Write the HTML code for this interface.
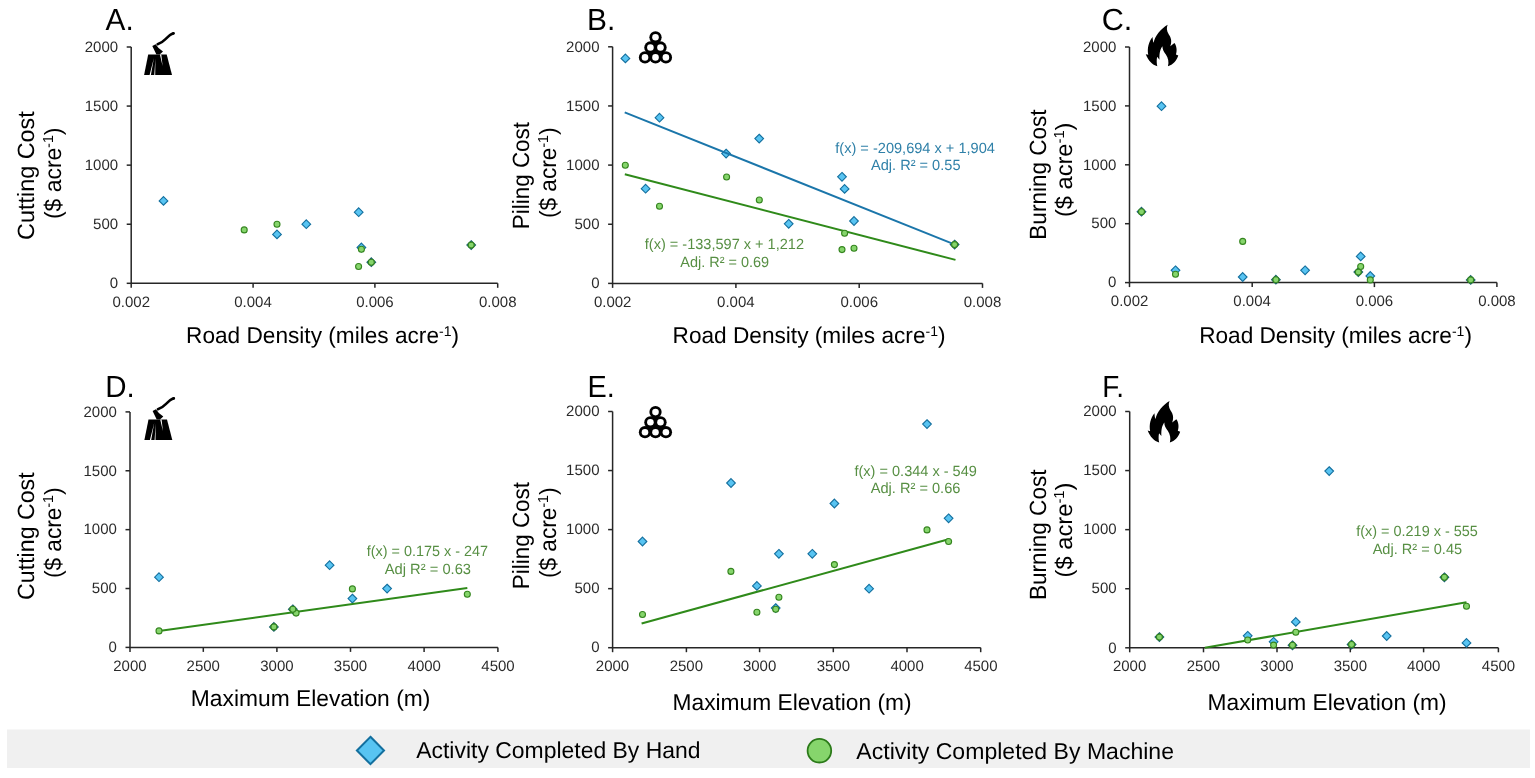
<!DOCTYPE html>
<html><head><meta charset="utf-8"><title>Figure</title>
<style>html,body{margin:0;padding:0;background:#fff;} svg{display:block;} text{font-family:'Liberation Sans', Arial, sans-serif;text-rendering:geometricPrecision;}</style>
</head><body>
<svg width="1535" height="778" viewBox="0 0 1535 778">
<rect width="1535" height="778" fill="#fff"/>
<path d="M131.20,47.00V283.30H497.70" fill="none" stroke="#262626" stroke-width="1.5"/>
<path d="M126.70,283.30H131.20" stroke="#262626" stroke-width="1.5"/>
<text transform="translate(109.74,288.05) scale(1.0000,1)" font-size="15.0" fill="#2a2a2a">0</text>
<path d="M126.70,224.23H131.20" stroke="#262626" stroke-width="1.5"/>
<text transform="translate(93.05,228.98) scale(1.0000,1)" font-size="15.0" fill="#2a2a2a">500</text>
<path d="M126.70,165.15H131.20" stroke="#262626" stroke-width="1.5"/>
<text transform="translate(84.72,169.90) scale(1.0000,1)" font-size="15.0" fill="#2a2a2a">1000</text>
<path d="M126.70,106.07H131.20" stroke="#262626" stroke-width="1.5"/>
<text transform="translate(84.72,110.82) scale(1.0000,1)" font-size="15.0" fill="#2a2a2a">1500</text>
<path d="M126.70,47.00H131.20" stroke="#262626" stroke-width="1.5"/>
<text transform="translate(84.72,51.75) scale(1.0000,1)" font-size="15.0" fill="#2a2a2a">2000</text>
<path d="M131.20,283.30V287.80" stroke="#262626" stroke-width="1.5"/>
<text transform="translate(112.51,306.60) scale(1.0000,1)" font-size="15.0" fill="#2a2a2a">0.002</text>
<path d="M253.10,283.30V287.80" stroke="#262626" stroke-width="1.5"/>
<text transform="translate(234.24,306.60) scale(1.0000,1)" font-size="15.0" fill="#2a2a2a">0.004</text>
<path d="M374.90,283.30V287.80" stroke="#262626" stroke-width="1.5"/>
<text transform="translate(356.15,306.60) scale(1.0000,1)" font-size="15.0" fill="#2a2a2a">0.006</text>
<path d="M497.70,283.30V287.80" stroke="#262626" stroke-width="1.5"/>
<text transform="translate(478.95,306.60) scale(1.0000,1)" font-size="15.0" fill="#2a2a2a">0.008</text>
<text transform="translate(105.53,30.00) scale(0.9769,1)" font-size="30.5" fill="#000">A.</text>
<path d="M612.60,46.80V283.40H982.50" fill="none" stroke="#262626" stroke-width="1.5"/>
<path d="M608.10,283.40H612.60" stroke="#262626" stroke-width="1.5"/>
<text transform="translate(591.14,288.15) scale(1.0000,1)" font-size="15.0" fill="#2a2a2a">0</text>
<path d="M608.10,224.25H612.60" stroke="#262626" stroke-width="1.5"/>
<text transform="translate(574.45,229.00) scale(1.0000,1)" font-size="15.0" fill="#2a2a2a">500</text>
<path d="M608.10,165.10H612.60" stroke="#262626" stroke-width="1.5"/>
<text transform="translate(566.12,169.85) scale(1.0000,1)" font-size="15.0" fill="#2a2a2a">1000</text>
<path d="M608.10,105.95H612.60" stroke="#262626" stroke-width="1.5"/>
<text transform="translate(566.12,110.70) scale(1.0000,1)" font-size="15.0" fill="#2a2a2a">1500</text>
<path d="M608.10,46.80H612.60" stroke="#262626" stroke-width="1.5"/>
<text transform="translate(566.12,51.55) scale(1.0000,1)" font-size="15.0" fill="#2a2a2a">2000</text>
<path d="M612.60,283.40V287.90" stroke="#262626" stroke-width="1.5"/>
<text transform="translate(593.91,306.70) scale(1.0000,1)" font-size="15.0" fill="#2a2a2a">0.002</text>
<path d="M735.90,283.40V287.90" stroke="#262626" stroke-width="1.5"/>
<text transform="translate(717.04,306.70) scale(1.0000,1)" font-size="15.0" fill="#2a2a2a">0.004</text>
<path d="M859.20,283.40V287.90" stroke="#262626" stroke-width="1.5"/>
<text transform="translate(840.45,306.70) scale(1.0000,1)" font-size="15.0" fill="#2a2a2a">0.006</text>
<path d="M982.50,283.40V287.90" stroke="#262626" stroke-width="1.5"/>
<text transform="translate(963.75,306.70) scale(1.0000,1)" font-size="15.0" fill="#2a2a2a">0.008</text>
<text transform="translate(587.03,30.00) scale(0.9804,1)" font-size="30.5" fill="#000">B.</text>
<path d="M1129.50,47.00V282.60H1496.90" fill="none" stroke="#262626" stroke-width="1.5"/>
<path d="M1125.00,282.60H1129.50" stroke="#262626" stroke-width="1.5"/>
<text transform="translate(1108.04,287.35) scale(1.0000,1)" font-size="15.0" fill="#2a2a2a">0</text>
<path d="M1125.00,223.70H1129.50" stroke="#262626" stroke-width="1.5"/>
<text transform="translate(1091.35,228.45) scale(1.0000,1)" font-size="15.0" fill="#2a2a2a">500</text>
<path d="M1125.00,164.80H1129.50" stroke="#262626" stroke-width="1.5"/>
<text transform="translate(1083.02,169.55) scale(1.0000,1)" font-size="15.0" fill="#2a2a2a">1000</text>
<path d="M1125.00,105.90H1129.50" stroke="#262626" stroke-width="1.5"/>
<text transform="translate(1083.02,110.65) scale(1.0000,1)" font-size="15.0" fill="#2a2a2a">1500</text>
<path d="M1125.00,47.00H1129.50" stroke="#262626" stroke-width="1.5"/>
<text transform="translate(1083.02,51.75) scale(1.0000,1)" font-size="15.0" fill="#2a2a2a">2000</text>
<path d="M1129.50,282.60V287.10" stroke="#262626" stroke-width="1.5"/>
<text transform="translate(1110.81,305.90) scale(1.0000,1)" font-size="15.0" fill="#2a2a2a">0.002</text>
<path d="M1252.20,282.60V287.10" stroke="#262626" stroke-width="1.5"/>
<text transform="translate(1233.34,305.90) scale(1.0000,1)" font-size="15.0" fill="#2a2a2a">0.004</text>
<path d="M1374.40,282.60V287.10" stroke="#262626" stroke-width="1.5"/>
<text transform="translate(1355.65,305.90) scale(1.0000,1)" font-size="15.0" fill="#2a2a2a">0.006</text>
<path d="M1496.90,282.60V287.10" stroke="#262626" stroke-width="1.5"/>
<text transform="translate(1478.15,305.90) scale(1.0000,1)" font-size="15.0" fill="#2a2a2a">0.008</text>
<text transform="translate(1101.67,30.00) scale(1.0027,1)" font-size="30.5" fill="#000">C.</text>
<path d="M130.00,411.90V647.40H497.90" fill="none" stroke="#262626" stroke-width="1.5"/>
<path d="M125.50,647.40H130.00" stroke="#262626" stroke-width="1.5"/>
<text transform="translate(108.54,652.15) scale(1.0000,1)" font-size="15.0" fill="#2a2a2a">0</text>
<path d="M125.50,588.52H130.00" stroke="#262626" stroke-width="1.5"/>
<text transform="translate(91.85,593.27) scale(1.0000,1)" font-size="15.0" fill="#2a2a2a">500</text>
<path d="M125.50,529.65H130.00" stroke="#262626" stroke-width="1.5"/>
<text transform="translate(83.53,534.40) scale(1.0000,1)" font-size="15.0" fill="#2a2a2a">1000</text>
<path d="M125.50,470.77H130.00" stroke="#262626" stroke-width="1.5"/>
<text transform="translate(83.53,475.52) scale(1.0000,1)" font-size="15.0" fill="#2a2a2a">1500</text>
<path d="M125.50,411.90H130.00" stroke="#262626" stroke-width="1.5"/>
<text transform="translate(83.53,416.65) scale(1.0000,1)" font-size="15.0" fill="#2a2a2a">2000</text>
<path d="M130.00,647.40V651.90" stroke="#262626" stroke-width="1.5"/>
<text transform="translate(113.24,670.60) scale(1.0000,1)" font-size="15.0" fill="#2a2a2a">2000</text>
<path d="M203.30,647.40V651.90" stroke="#262626" stroke-width="1.5"/>
<text transform="translate(186.54,670.60) scale(1.0000,1)" font-size="15.0" fill="#2a2a2a">2500</text>
<path d="M276.90,647.40V651.90" stroke="#262626" stroke-width="1.5"/>
<text transform="translate(260.23,670.60) scale(1.0000,1)" font-size="15.0" fill="#2a2a2a">3000</text>
<path d="M350.50,647.40V651.90" stroke="#262626" stroke-width="1.5"/>
<text transform="translate(333.83,670.60) scale(1.0000,1)" font-size="15.0" fill="#2a2a2a">3500</text>
<path d="M424.10,647.40V651.90" stroke="#262626" stroke-width="1.5"/>
<text transform="translate(407.54,670.60) scale(1.0000,1)" font-size="15.0" fill="#2a2a2a">4000</text>
<path d="M497.90,647.40V651.90" stroke="#262626" stroke-width="1.5"/>
<text transform="translate(481.34,670.60) scale(1.0000,1)" font-size="15.0" fill="#2a2a2a">4500</text>
<text transform="translate(105.17,397.10) scale(0.9668,1)" font-size="30.5" fill="#000">D.</text>
<path d="M612.60,411.50V647.70H980.70" fill="none" stroke="#262626" stroke-width="1.5"/>
<path d="M608.10,647.70H612.60" stroke="#262626" stroke-width="1.5"/>
<text transform="translate(591.14,652.45) scale(1.0000,1)" font-size="15.0" fill="#2a2a2a">0</text>
<path d="M608.10,588.65H612.60" stroke="#262626" stroke-width="1.5"/>
<text transform="translate(574.45,593.40) scale(1.0000,1)" font-size="15.0" fill="#2a2a2a">500</text>
<path d="M608.10,529.60H612.60" stroke="#262626" stroke-width="1.5"/>
<text transform="translate(566.12,534.35) scale(1.0000,1)" font-size="15.0" fill="#2a2a2a">1000</text>
<path d="M608.10,470.55H612.60" stroke="#262626" stroke-width="1.5"/>
<text transform="translate(566.12,475.30) scale(1.0000,1)" font-size="15.0" fill="#2a2a2a">1500</text>
<path d="M608.10,411.50H612.60" stroke="#262626" stroke-width="1.5"/>
<text transform="translate(566.12,416.25) scale(1.0000,1)" font-size="15.0" fill="#2a2a2a">2000</text>
<path d="M612.60,647.70V652.20" stroke="#262626" stroke-width="1.5"/>
<text transform="translate(595.84,670.90) scale(1.0000,1)" font-size="15.0" fill="#2a2a2a">2000</text>
<path d="M686.40,647.70V652.20" stroke="#262626" stroke-width="1.5"/>
<text transform="translate(669.64,670.90) scale(1.0000,1)" font-size="15.0" fill="#2a2a2a">2500</text>
<path d="M759.60,647.70V652.20" stroke="#262626" stroke-width="1.5"/>
<text transform="translate(742.93,670.90) scale(1.0000,1)" font-size="15.0" fill="#2a2a2a">3000</text>
<path d="M833.30,647.70V652.20" stroke="#262626" stroke-width="1.5"/>
<text transform="translate(816.63,670.90) scale(1.0000,1)" font-size="15.0" fill="#2a2a2a">3500</text>
<path d="M907.00,647.70V652.20" stroke="#262626" stroke-width="1.5"/>
<text transform="translate(890.44,670.90) scale(1.0000,1)" font-size="15.0" fill="#2a2a2a">4000</text>
<path d="M980.70,647.70V652.20" stroke="#262626" stroke-width="1.5"/>
<text transform="translate(964.14,670.90) scale(1.0000,1)" font-size="15.0" fill="#2a2a2a">4500</text>
<text transform="translate(587.52,397.10) scale(0.9465,1)" font-size="30.5" fill="#000">E.</text>
<path d="M1129.70,411.50V647.80H1498.40" fill="none" stroke="#262626" stroke-width="1.5"/>
<path d="M1125.20,647.80H1129.70" stroke="#262626" stroke-width="1.5"/>
<text transform="translate(1108.24,652.55) scale(1.0000,1)" font-size="15.0" fill="#2a2a2a">0</text>
<path d="M1125.20,588.72H1129.70" stroke="#262626" stroke-width="1.5"/>
<text transform="translate(1091.55,593.47) scale(1.0000,1)" font-size="15.0" fill="#2a2a2a">500</text>
<path d="M1125.20,529.65H1129.70" stroke="#262626" stroke-width="1.5"/>
<text transform="translate(1083.22,534.40) scale(1.0000,1)" font-size="15.0" fill="#2a2a2a">1000</text>
<path d="M1125.20,470.57H1129.70" stroke="#262626" stroke-width="1.5"/>
<text transform="translate(1083.22,475.32) scale(1.0000,1)" font-size="15.0" fill="#2a2a2a">1500</text>
<path d="M1125.20,411.50H1129.70" stroke="#262626" stroke-width="1.5"/>
<text transform="translate(1083.22,416.25) scale(1.0000,1)" font-size="15.0" fill="#2a2a2a">2000</text>
<path d="M1129.70,647.80V652.30" stroke="#262626" stroke-width="1.5"/>
<text transform="translate(1112.94,671.00) scale(1.0000,1)" font-size="15.0" fill="#2a2a2a">2000</text>
<path d="M1203.50,647.80V652.30" stroke="#262626" stroke-width="1.5"/>
<text transform="translate(1186.74,671.00) scale(1.0000,1)" font-size="15.0" fill="#2a2a2a">2500</text>
<path d="M1277.00,647.80V652.30" stroke="#262626" stroke-width="1.5"/>
<text transform="translate(1260.33,671.00) scale(1.0000,1)" font-size="15.0" fill="#2a2a2a">3000</text>
<path d="M1350.30,647.80V652.30" stroke="#262626" stroke-width="1.5"/>
<text transform="translate(1333.63,671.00) scale(1.0000,1)" font-size="15.0" fill="#2a2a2a">3500</text>
<path d="M1423.60,647.80V652.30" stroke="#262626" stroke-width="1.5"/>
<text transform="translate(1407.04,671.00) scale(1.0000,1)" font-size="15.0" fill="#2a2a2a">4000</text>
<path d="M1498.40,647.80V652.30" stroke="#262626" stroke-width="1.5"/>
<text transform="translate(1481.84,671.00) scale(1.0000,1)" font-size="15.0" fill="#2a2a2a">4500</text>
<text transform="translate(1102.20,397.10) scale(0.9159,1)" font-size="30.5" fill="#000">F.</text>
<text transform="translate(186.03,343.30) scale(0.9934,1)" font-size="22.8" fill="#000">Road Density (miles acre<tspan font-size="14.14" dy="-7.52">-1</tspan><tspan dy="7.52">)</tspan></text>
<text transform="translate(672.53,343.30) scale(0.9934,1)" font-size="22.8" fill="#000">Road Density (miles acre<tspan font-size="14.14" dy="-7.52">-1</tspan><tspan dy="7.52">)</tspan></text>
<text transform="translate(1199.13,343.30) scale(0.9927,1)" font-size="22.8" fill="#000">Road Density (miles acre<tspan font-size="14.14" dy="-7.52">-1</tspan><tspan dy="7.52">)</tspan></text>
<text transform="translate(190.82,705.80) scale(1.0004,1)" font-size="22.8" fill="#000">Maximum Elevation (m)</text>
<text transform="translate(672.52,710.10) scale(0.9987,1)" font-size="22.8" fill="#000">Maximum Elevation (m)</text>
<text transform="translate(1207.52,710.10) scale(0.9987,1)" font-size="22.8" fill="#000">Maximum Elevation (m)</text>
<g transform="translate(34.40,238.80) rotate(-90)"><text transform="translate(-1.17,0.00) scale(0.9956,1)" font-size="23.5" fill="#000">Cutting Cost</text></g>
<g transform="translate(60.80,217.60) rotate(-90)"><text transform="translate(-1.43,0.00) scale(0.9744,1)" font-size="23.5" fill="#000">($ acre<tspan font-size="14.57" dy="-7.76">-1</tspan><tspan dy="7.76">)</tspan></text></g>
<g transform="translate(529.20,227.30) rotate(-90)"><text transform="translate(-1.85,0.00) scale(0.9536,1)" font-size="23.5" fill="#000">Piling Cost</text></g>
<g transform="translate(555.80,216.70) rotate(-90)"><text transform="translate(-1.42,0.00) scale(0.9645,1)" font-size="23.5" fill="#000">($ acre<tspan font-size="14.57" dy="-7.76">-1</tspan><tspan dy="7.76">)</tspan></text></g>
<g transform="translate(1045.80,237.80) rotate(-90)"><text transform="translate(-1.86,0.00) scale(0.9588,1)" font-size="23.5" fill="#000">Burning Cost</text></g>
<g transform="translate(1071.80,215.60) rotate(-90)"><text transform="translate(-1.48,0.00) scale(1.0062,1)" font-size="23.5" fill="#000">($ acre<tspan font-size="14.57" dy="-7.76">-1</tspan><tspan dy="7.76">)</tspan></text></g>
<g transform="translate(34.40,598.80) rotate(-90)"><text transform="translate(-1.16,0.00) scale(0.9870,1)" font-size="23.5" fill="#000">Cutting Cost</text></g>
<g transform="translate(60.80,576.70) rotate(-90)"><text transform="translate(-1.42,0.00) scale(0.9645,1)" font-size="23.5" fill="#000">($ acre<tspan font-size="14.57" dy="-7.76">-1</tspan><tspan dy="7.76">)</tspan></text></g>
<g transform="translate(529.20,587.30) rotate(-90)"><text transform="translate(-1.85,0.00) scale(0.9536,1)" font-size="23.5" fill="#000">Piling Cost</text></g>
<g transform="translate(555.80,576.70) rotate(-90)"><text transform="translate(-1.42,0.00) scale(0.9645,1)" font-size="23.5" fill="#000">($ acre<tspan font-size="14.57" dy="-7.76">-1</tspan><tspan dy="7.76">)</tspan></text></g>
<g transform="translate(1045.80,598.20) rotate(-90)"><text transform="translate(-1.86,0.00) scale(0.9617,1)" font-size="23.5" fill="#000">Burning Cost</text></g>
<g transform="translate(1071.80,576.00) rotate(-90)"><text transform="translate(-1.48,0.00) scale(1.0106,1)" font-size="23.5" fill="#000">($ acre<tspan font-size="14.57" dy="-7.76">-1</tspan><tspan dy="7.76">)</tspan></text></g>
<path d="M163.50,196.55L167.85,200.90L163.50,205.25L159.15,200.90Z" fill="#58C4F2" stroke="#136F9E" stroke-width="1.1"/>
<path d="M277.00,230.05L281.35,234.40L277.00,238.75L272.65,234.40Z" fill="#58C4F2" stroke="#136F9E" stroke-width="1.1"/>
<path d="M306.30,219.85L310.65,224.20L306.30,228.55L301.95,224.20Z" fill="#58C4F2" stroke="#136F9E" stroke-width="1.1"/>
<path d="M358.70,207.85L363.05,212.20L358.70,216.55L354.35,212.20Z" fill="#58C4F2" stroke="#136F9E" stroke-width="1.1"/>
<path d="M361.40,243.15L365.75,247.50L361.40,251.85L357.05,247.50Z" fill="#58C4F2" stroke="#136F9E" stroke-width="1.1"/>
<path d="M371.30,257.85L375.65,262.20L371.30,266.55L366.95,262.20Z" fill="#2f7f55" stroke="#1c6470" stroke-width="1.1"/>
<path d="M471.20,240.75L475.55,245.10L471.20,249.45L466.85,245.10Z" fill="#2f7f55" stroke="#1c6470" stroke-width="1.1"/>
<circle cx="244.20" cy="229.90" r="3.0" fill="#86D56C" stroke="#35851F" stroke-width="1.1"/>
<circle cx="277.00" cy="224.20" r="3.0" fill="#86D56C" stroke="#35851F" stroke-width="1.1"/>
<circle cx="361.40" cy="249.20" r="3.0" fill="#86D56C" stroke="#35851F" stroke-width="1.1"/>
<circle cx="358.60" cy="266.50" r="3.0" fill="#86D56C" stroke="#35851F" stroke-width="1.1"/>
<circle cx="371.30" cy="262.20" r="3.0" fill="#86D56C" stroke="#35851F" stroke-width="1.1"/>
<circle cx="471.20" cy="245.10" r="3.0" fill="#86D56C" stroke="#35851F" stroke-width="1.1"/>
<path d="M625.40,54.05L629.75,58.40L625.40,62.75L621.05,58.40Z" fill="#58C4F2" stroke="#136F9E" stroke-width="1.1"/>
<path d="M659.50,113.35L663.85,117.70L659.50,122.05L655.15,117.70Z" fill="#58C4F2" stroke="#136F9E" stroke-width="1.1"/>
<path d="M645.60,184.35L649.95,188.70L645.60,193.05L641.25,188.70Z" fill="#58C4F2" stroke="#136F9E" stroke-width="1.1"/>
<path d="M726.10,149.25L730.45,153.60L726.10,157.95L721.75,153.60Z" fill="#58C4F2" stroke="#136F9E" stroke-width="1.1"/>
<path d="M759.20,134.25L763.55,138.60L759.20,142.95L754.85,138.60Z" fill="#58C4F2" stroke="#136F9E" stroke-width="1.1"/>
<path d="M788.70,219.45L793.05,223.80L788.70,228.15L784.35,223.80Z" fill="#58C4F2" stroke="#136F9E" stroke-width="1.1"/>
<path d="M842.00,172.45L846.35,176.80L842.00,181.15L837.65,176.80Z" fill="#58C4F2" stroke="#136F9E" stroke-width="1.1"/>
<path d="M844.60,184.55L848.95,188.90L844.60,193.25L840.25,188.90Z" fill="#58C4F2" stroke="#136F9E" stroke-width="1.1"/>
<path d="M854.00,216.65L858.35,221.00L854.00,225.35L849.65,221.00Z" fill="#58C4F2" stroke="#136F9E" stroke-width="1.1"/>
<path d="M954.60,240.25L958.95,244.60L954.60,248.95L950.25,244.60Z" fill="#2f7f55" stroke="#1c6470" stroke-width="1.1"/>
<path d="M624.70,112.40L955.00,244.60" stroke="#1B76AA" stroke-width="2" fill="none"/>
<path d="M624.80,174.30L955.50,259.90" stroke="#2F8A1A" stroke-width="2" fill="none"/>
<circle cx="625.30" cy="165.30" r="3.0" fill="#86D56C" stroke="#35851F" stroke-width="1.1"/>
<circle cx="659.50" cy="206.30" r="3.0" fill="#86D56C" stroke="#35851F" stroke-width="1.1"/>
<circle cx="726.60" cy="177.00" r="3.0" fill="#86D56C" stroke="#35851F" stroke-width="1.1"/>
<circle cx="759.30" cy="200.00" r="3.0" fill="#86D56C" stroke="#35851F" stroke-width="1.1"/>
<circle cx="844.60" cy="233.20" r="3.0" fill="#86D56C" stroke="#35851F" stroke-width="1.1"/>
<circle cx="842.00" cy="249.60" r="3.0" fill="#86D56C" stroke="#35851F" stroke-width="1.1"/>
<circle cx="854.00" cy="248.30" r="3.0" fill="#86D56C" stroke="#35851F" stroke-width="1.1"/>
<circle cx="954.60" cy="244.60" r="3.0" fill="#86D56C" stroke="#35851F" stroke-width="1.1"/>
<path d="M1161.50,101.85L1165.85,106.20L1161.50,110.55L1157.15,106.20Z" fill="#58C4F2" stroke="#136F9E" stroke-width="1.1"/>
<path d="M1175.50,265.95L1179.85,270.30L1175.50,274.65L1171.15,270.30Z" fill="#58C4F2" stroke="#136F9E" stroke-width="1.1"/>
<path d="M1242.70,272.65L1247.05,277.00L1242.70,281.35L1238.35,277.00Z" fill="#58C4F2" stroke="#136F9E" stroke-width="1.1"/>
<path d="M1305.10,265.95L1309.45,270.30L1305.10,274.65L1300.75,270.30Z" fill="#58C4F2" stroke="#136F9E" stroke-width="1.1"/>
<path d="M1360.70,252.05L1365.05,256.40L1360.70,260.75L1356.35,256.40Z" fill="#58C4F2" stroke="#136F9E" stroke-width="1.1"/>
<path d="M1370.30,271.65L1374.65,276.00L1370.30,280.35L1365.95,276.00Z" fill="#58C4F2" stroke="#136F9E" stroke-width="1.1"/>
<path d="M1141.50,207.35L1145.85,211.70L1141.50,216.05L1137.15,211.70Z" fill="#2f7f55" stroke="#1c6470" stroke-width="1.1"/>
<path d="M1275.90,275.35L1280.25,279.70L1275.90,284.05L1271.55,279.70Z" fill="#2f7f55" stroke="#1c6470" stroke-width="1.1"/>
<path d="M1358.30,267.75L1362.65,272.10L1358.30,276.45L1353.95,272.10Z" fill="#2f7f55" stroke="#1c6470" stroke-width="1.1"/>
<path d="M1470.70,275.55L1475.05,279.90L1470.70,284.25L1466.35,279.90Z" fill="#2f7f55" stroke="#1c6470" stroke-width="1.1"/>
<circle cx="1242.70" cy="241.40" r="3.0" fill="#86D56C" stroke="#35851F" stroke-width="1.1"/>
<circle cx="1175.50" cy="274.30" r="3.0" fill="#86D56C" stroke="#35851F" stroke-width="1.1"/>
<circle cx="1360.70" cy="266.50" r="3.0" fill="#86D56C" stroke="#35851F" stroke-width="1.1"/>
<circle cx="1370.30" cy="279.90" r="3.0" fill="#86D56C" stroke="#35851F" stroke-width="1.1"/>
<circle cx="1141.50" cy="211.70" r="3.0" fill="#86D56C" stroke="#35851F" stroke-width="1.1"/>
<circle cx="1275.90" cy="279.70" r="3.0" fill="#86D56C" stroke="#35851F" stroke-width="1.1"/>
<circle cx="1358.30" cy="272.10" r="3.0" fill="#86D56C" stroke="#35851F" stroke-width="1.1"/>
<circle cx="1470.70" cy="279.90" r="3.0" fill="#86D56C" stroke="#35851F" stroke-width="1.1"/>
<path d="M159.00,572.85L163.35,577.20L159.00,581.55L154.65,577.20Z" fill="#58C4F2" stroke="#136F9E" stroke-width="1.1"/>
<path d="M329.60,560.85L333.95,565.20L329.60,569.55L325.25,565.20Z" fill="#58C4F2" stroke="#136F9E" stroke-width="1.1"/>
<path d="M352.40,594.25L356.75,598.60L352.40,602.95L348.05,598.60Z" fill="#58C4F2" stroke="#136F9E" stroke-width="1.1"/>
<path d="M387.10,584.25L391.45,588.60L387.10,592.95L382.75,588.60Z" fill="#58C4F2" stroke="#136F9E" stroke-width="1.1"/>
<path d="M273.90,622.55L278.25,626.90L273.90,631.25L269.55,626.90Z" fill="#2f7f55" stroke="#1c6470" stroke-width="1.1"/>
<path d="M292.80,604.95L297.15,609.30L292.80,613.65L288.45,609.30Z" fill="#2f7f55" stroke="#1c6470" stroke-width="1.1"/>
<path d="M159.00,630.90L467.30,588.10" stroke="#2F8A1A" stroke-width="2" fill="none"/>
<circle cx="159.00" cy="630.90" r="3.0" fill="#86D56C" stroke="#35851F" stroke-width="1.1"/>
<circle cx="296.10" cy="613.10" r="3.0" fill="#86D56C" stroke="#35851F" stroke-width="1.1"/>
<circle cx="352.40" cy="588.90" r="3.0" fill="#86D56C" stroke="#35851F" stroke-width="1.1"/>
<circle cx="467.30" cy="594.30" r="3.0" fill="#86D56C" stroke="#35851F" stroke-width="1.1"/>
<circle cx="273.90" cy="626.90" r="3.0" fill="#86D56C" stroke="#35851F" stroke-width="1.1"/>
<circle cx="292.80" cy="609.30" r="3.0" fill="#86D56C" stroke="#35851F" stroke-width="1.1"/>
<path d="M642.50,537.15L646.85,541.50L642.50,545.85L638.15,541.50Z" fill="#58C4F2" stroke="#136F9E" stroke-width="1.1"/>
<path d="M731.00,478.65L735.35,483.00L731.00,487.35L726.65,483.00Z" fill="#58C4F2" stroke="#136F9E" stroke-width="1.1"/>
<path d="M756.90,581.55L761.25,585.90L756.90,590.25L752.55,585.90Z" fill="#58C4F2" stroke="#136F9E" stroke-width="1.1"/>
<path d="M778.90,549.45L783.25,553.80L778.90,558.15L774.55,553.80Z" fill="#58C4F2" stroke="#136F9E" stroke-width="1.1"/>
<path d="M812.30,549.45L816.65,553.80L812.30,558.15L807.95,553.80Z" fill="#58C4F2" stroke="#136F9E" stroke-width="1.1"/>
<path d="M834.40,499.15L838.75,503.50L834.40,507.85L830.05,503.50Z" fill="#58C4F2" stroke="#136F9E" stroke-width="1.1"/>
<path d="M869.10,584.35L873.45,588.70L869.10,593.05L864.75,588.70Z" fill="#58C4F2" stroke="#136F9E" stroke-width="1.1"/>
<path d="M927.00,419.75L931.35,424.10L927.00,428.45L922.65,424.10Z" fill="#58C4F2" stroke="#136F9E" stroke-width="1.1"/>
<path d="M948.60,513.95L952.95,518.30L948.60,522.65L944.25,518.30Z" fill="#58C4F2" stroke="#136F9E" stroke-width="1.1"/>
<path d="M775.70,603.75L780.05,608.10L775.70,612.45L771.35,608.10Z" fill="#58C4F2" stroke="#136F9E" stroke-width="1.1"/>
<path d="M641.60,623.50L948.60,539.20" stroke="#2F8A1A" stroke-width="2" fill="none"/>
<circle cx="642.50" cy="614.50" r="3.0" fill="#86D56C" stroke="#35851F" stroke-width="1.1"/>
<circle cx="730.90" cy="571.40" r="3.0" fill="#86D56C" stroke="#35851F" stroke-width="1.1"/>
<circle cx="756.90" cy="612.30" r="3.0" fill="#86D56C" stroke="#35851F" stroke-width="1.1"/>
<circle cx="778.90" cy="597.20" r="3.0" fill="#86D56C" stroke="#35851F" stroke-width="1.1"/>
<circle cx="775.70" cy="609.30" r="3.0" fill="#86D56C" stroke="#35851F" stroke-width="1.1"/>
<circle cx="834.40" cy="564.60" r="3.0" fill="#86D56C" stroke="#35851F" stroke-width="1.1"/>
<circle cx="927.00" cy="529.90" r="3.0" fill="#86D56C" stroke="#35851F" stroke-width="1.1"/>
<circle cx="948.60" cy="541.50" r="3.0" fill="#86D56C" stroke="#35851F" stroke-width="1.1"/>
<path d="M1247.70,631.45L1252.05,635.80L1247.70,640.15L1243.35,635.80Z" fill="#58C4F2" stroke="#136F9E" stroke-width="1.1"/>
<path d="M1273.60,637.45L1277.95,641.80L1273.60,646.15L1269.25,641.80Z" fill="#58C4F2" stroke="#136F9E" stroke-width="1.1"/>
<path d="M1295.80,617.55L1300.15,621.90L1295.80,626.25L1291.45,621.90Z" fill="#58C4F2" stroke="#136F9E" stroke-width="1.1"/>
<path d="M1329.20,466.75L1333.55,471.10L1329.20,475.45L1324.85,471.10Z" fill="#58C4F2" stroke="#136F9E" stroke-width="1.1"/>
<path d="M1386.70,631.65L1391.05,636.00L1386.70,640.35L1382.35,636.00Z" fill="#58C4F2" stroke="#136F9E" stroke-width="1.1"/>
<path d="M1466.50,638.55L1470.85,642.90L1466.50,647.25L1462.15,642.90Z" fill="#58C4F2" stroke="#136F9E" stroke-width="1.1"/>
<path d="M1159.40,632.75L1163.75,637.10L1159.40,641.45L1155.05,637.10Z" fill="#2f7f55" stroke="#1c6470" stroke-width="1.1"/>
<path d="M1292.50,640.95L1296.85,645.30L1292.50,649.65L1288.15,645.30Z" fill="#2f7f55" stroke="#1c6470" stroke-width="1.1"/>
<path d="M1351.60,640.15L1355.95,644.50L1351.60,648.85L1347.25,644.50Z" fill="#2f7f55" stroke="#1c6470" stroke-width="1.1"/>
<path d="M1444.40,572.95L1448.75,577.30L1444.40,581.65L1440.05,577.30Z" fill="#2f7f55" stroke="#1c6470" stroke-width="1.1"/>
<path d="M1204.80,647.80L1466.50,602.30" stroke="#2F8A1A" stroke-width="2" fill="none"/>
<circle cx="1247.70" cy="640.00" r="3.0" fill="#86D56C" stroke="#35851F" stroke-width="1.1"/>
<circle cx="1273.60" cy="645.10" r="3.0" fill="#86D56C" stroke="#35851F" stroke-width="1.1"/>
<circle cx="1295.80" cy="632.20" r="3.0" fill="#86D56C" stroke="#35851F" stroke-width="1.1"/>
<circle cx="1466.50" cy="606.30" r="3.0" fill="#86D56C" stroke="#35851F" stroke-width="1.1"/>
<circle cx="1159.40" cy="637.10" r="3.0" fill="#86D56C" stroke="#35851F" stroke-width="1.1"/>
<circle cx="1292.50" cy="645.30" r="3.0" fill="#86D56C" stroke="#35851F" stroke-width="1.1"/>
<circle cx="1351.60" cy="644.50" r="3.0" fill="#86D56C" stroke="#35851F" stroke-width="1.1"/>
<circle cx="1444.40" cy="577.30" r="3.0" fill="#86D56C" stroke="#35851F" stroke-width="1.1"/>
<text transform="translate(835.28,152.90) scale(0.9849,1)" font-size="14.8" fill="#2F80A8">f(x) = -209,694 x + 1,904</text>
<text transform="translate(870.96,170.20) scale(0.9851,1)" font-size="14.8" fill="#2F80A8">Adj. R² = 0.55</text>
<text transform="translate(644.78,248.60) scale(0.9826,1)" font-size="14.8" fill="#578F43">f(x) = -133,597 x + 1,212</text>
<text transform="translate(680.36,266.50) scale(0.9771,1)" font-size="14.8" fill="#578F43">Adj. R² = 0.69</text>
<text transform="translate(366.78,556.20) scale(0.9729,1)" font-size="14.8" fill="#578F43">f(x) = 0.175 x - 247</text>
<text transform="translate(384.76,573.50) scale(0.9942,1)" font-size="14.8" fill="#578F43">Adj R² = 0.63</text>
<text transform="translate(854.48,476.20) scale(0.9820,1)" font-size="14.8" fill="#578F43">f(x) = 0.344 x - 549</text>
<text transform="translate(870.66,493.20) scale(0.9877,1)" font-size="14.8" fill="#578F43">Adj. R² = 0.66</text>
<text transform="translate(1356.18,536.40) scale(0.9766,1)" font-size="14.8" fill="#578F43">f(x) = 0.219 x - 555</text>
<text transform="translate(1372.66,553.60) scale(0.9840,1)" font-size="14.8" fill="#578F43">Adj. R² = 0.45</text>
<g transform="translate(0,0)">
<path d="M148.2,54.5H166.7L172,74.9H144.1Z" fill="#000"/>
<path d="M153.9,58L150.9,74.9H149.6Z M155.4,58.5L155.2,74.9H154.3Z M159.9,54.5H161.3L162.6,66Z" fill="#fff"/>
<path d="M152.3,46.1L155.6,44.2Q158.4,48.9 163.0,51.4L161.4,53.0Q160.3,53.5 159.9,54.6H156.4Z" fill="#000"/>
<path d="M157.6,44.3C160.5,43.4 163,41.8 165.5,39.2C168,36.6 170.5,34.2 173.6,33.3" fill="none" stroke="#000" stroke-width="2.5" stroke-linecap="round"/>
<circle cx="173.2" cy="33.5" r="1.3" fill="#000"/>
</g>
<g transform="translate(0.3,365.0)">
<path d="M148.2,54.5H166.7L172,74.9H144.1Z" fill="#000"/>
<path d="M153.9,58L150.9,74.9H149.6Z M155.4,58.5L155.2,74.9H154.3Z M159.9,54.5H161.3L162.6,66Z" fill="#fff"/>
<path d="M152.3,46.1L155.6,44.2Q158.4,48.9 163.0,51.4L161.4,53.0Q160.3,53.5 159.9,54.6H156.4Z" fill="#000"/>
<path d="M157.6,44.3C160.5,43.4 163,41.8 165.5,39.2C168,36.6 170.5,34.2 173.6,33.3" fill="none" stroke="#000" stroke-width="2.5" stroke-linecap="round"/>
<circle cx="173.2" cy="33.5" r="1.3" fill="#000"/>
</g>
<g transform="translate(0,0)"><circle cx="655.5" cy="37.3" r="6.15" fill="#000"/><circle cx="650.4" cy="47.5" r="6.15" fill="#000"/><circle cx="660.5" cy="47.5" r="6.15" fill="#000"/><circle cx="645.0" cy="57.4" r="6.15" fill="#000"/><circle cx="655.5" cy="57.4" r="6.15" fill="#000"/><circle cx="665.9" cy="57.4" r="6.15" fill="#000"/><path d="M655.5,37.3L645,57.4H665.9Z" fill="#000"/><circle cx="655.5" cy="37.3" r="3.3" fill="#fff"/><circle cx="650.4" cy="47.5" r="3.3" fill="#fff"/><circle cx="660.5" cy="47.5" r="3.3" fill="#fff"/><circle cx="645.0" cy="57.4" r="3.3" fill="#fff"/><circle cx="655.5" cy="57.4" r="3.3" fill="#fff"/><circle cx="665.9" cy="57.4" r="3.3" fill="#fff"/></g>
<g transform="translate(0,374.8)"><circle cx="655.5" cy="37.3" r="6.15" fill="#000"/><circle cx="650.4" cy="47.5" r="6.15" fill="#000"/><circle cx="660.5" cy="47.5" r="6.15" fill="#000"/><circle cx="645.0" cy="57.4" r="6.15" fill="#000"/><circle cx="655.5" cy="57.4" r="6.15" fill="#000"/><circle cx="665.9" cy="57.4" r="6.15" fill="#000"/><path d="M655.5,37.3L645,57.4H665.9Z" fill="#000"/><circle cx="655.5" cy="37.3" r="3.3" fill="#fff"/><circle cx="650.4" cy="47.5" r="3.3" fill="#fff"/><circle cx="660.5" cy="47.5" r="3.3" fill="#fff"/><circle cx="645.0" cy="57.4" r="3.3" fill="#fff"/><circle cx="655.5" cy="57.4" r="3.3" fill="#fff"/><circle cx="665.9" cy="57.4" r="3.3" fill="#fff"/></g>
<g transform="translate(1144,22) scale(0.05910)"><path d="M400,45C380,90 380,150 420,210C460,265 475,330 445,410C470,390 495,370 515,355C550,400 565,480 540,550L580,565C555,650 490,720 405,748C425,680 410,610 370,550C335,500 310,460 312,410C280,450 255,520 262,640L222,590C210,650 215,710 225,748C140,725 70,650 30,545L72,556C50,450 80,330 145,255C148,300 152,330 162,352C185,230 290,110 400,45Z" fill="#000"/></g>
<g transform="translate(1145.9,398.3) scale(0.05910)"><path d="M400,45C380,90 380,150 420,210C460,265 475,330 445,410C470,390 495,370 515,355C550,400 565,480 540,550L580,565C555,650 490,720 405,748C425,680 410,610 370,550C335,500 310,460 312,410C280,450 255,520 262,640L222,590C210,650 215,710 225,748C140,725 70,650 30,545L72,556C50,450 80,330 145,255C148,300 152,330 162,352C185,230 290,110 400,45Z" fill="#000"/></g>
<rect x="7" y="729.5" width="1523" height="38.5" fill="#f0f0f0"/>
<path d="M370.45,736.8L384,750.5L370.45,764.2L356.9,750.5Z" fill="#58C4F2" stroke="#136F9E" stroke-width="2"/>
<circle cx="819.4" cy="750.7" r="11.8" fill="#86D56C" stroke="#2B7A19" stroke-width="1.8"/>
<text transform="translate(416.24,758.40) scale(0.9971,1)" font-size="23.0" fill="#000">Activity Completed By Hand</text>
<text transform="translate(856.34,758.60) scale(1.0020,1)" font-size="23.0" fill="#000">Activity Completed By Machine</text>
</svg>
</body></html>
